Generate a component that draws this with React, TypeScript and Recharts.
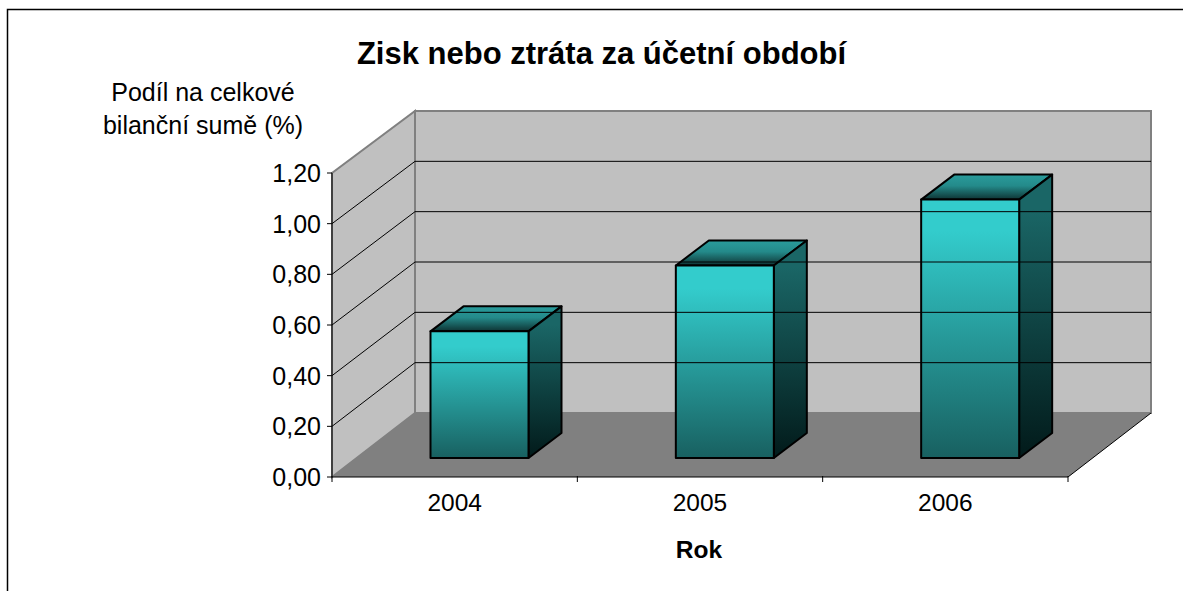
import React from 'react';
import { BarChart, Bar, XAxis, YAxis, ReferenceArea, ReferenceLine } from 'recharts';

const years = ['2004', '2005', '2006'];
const shares = [0.5, 0.76, 1.02];
const yTicks = [0, 0.2, 0.4, 0.6, 0.8, 1.0, 1.2];
const gridTicks = [0.2, 0.4, 0.6, 0.8, 1.0];
const title = 'Zisk nebo ztráta za účetní období';
const yTitle = ['Podíl na celkové', 'bilanční sumě (%)'];
const xTitle = 'Rok';

const rows = years.map((year, i) => ({ year, share: shares[i] }));

const W = 1183, H = 591;
const FONT = '"Liberation Sans", Arial, sans-serif';
const WALL_DX = 83, WALL_DY_TOP = -62, WALL_DY_BOTTOM = -64;
const BAR_SHIFT_X = 24.5, BAR_SHIFT_Y = -19;
const BAR_DX = 33, BAR_DY = -25;
const FRONT_TOP = 173, FRONT_BOTTOM = 477;

// The back wall is a little shorter than the front plane: map a front y onto it.
const backY = (y: number) => {
  const t = (y - FRONT_TOP) / (FRONT_BOTTOM - FRONT_TOP);
  return y + WALL_DY_TOP + (WALL_DY_BOTTOM - WALL_DY_TOP) * t;
};

const Walls = (p: any) => {
  const { x, y, width: w, height: h } = p;
  const bx = x + WALL_DX;
  const bTop = backY(y), bBot = backY(y + h);
  return (
    <g>
      <polygon points={`${x},${y + h} ${bx},${bBot} ${bx},${bTop} ${x},${y}`} fill="#c0c0c0" stroke="#808080" strokeWidth={2} />
      <rect x={bx} y={bTop} width={w} height={bBot - bTop} fill="#c0c0c0" stroke="#808080" strokeWidth={2} />
      <polygon points={`${x},${y + h} ${bx},${bBot} ${bx + w},${bBot} ${x + w},${y + h}`} fill="#808080" />
      <line x1={x + w} y1={y + h} x2={bx + w} y2={bBot} stroke="#000" strokeWidth={1} />
    </g>
  );
};

const GridLine = (p: any) => {
  const { x1, y1, x2 } = p;
  const bx = x1 + WALL_DX, by = backY(y1);
  return <polyline points={`${x1},${y1} ${bx},${by} ${x2 + WALL_DX},${by}`} fill="none" stroke="#000" strokeWidth={1} />;
};

const Box = (p: any) => {
  const x = p.x + BAR_SHIFT_X, y = p.y + BAR_SHIFT_Y, w = p.width, h = p.height;
  const r = x + w, b = y + h;
  return (
    <g stroke="#000" strokeWidth={2} strokeLinejoin="round">
      <polygon points={`${x},${y} ${x + BAR_DX},${y + BAR_DY} ${r + BAR_DX},${y + BAR_DY} ${r},${y}`} fill="url(#topFace)" />
      <polygon points={`${r},${y} ${r + BAR_DX},${y + BAR_DY} ${r + BAR_DX},${b + BAR_DY} ${r},${b}`} fill="url(#sideFace)" />
      <rect x={x} y={y} width={w} height={h} fill="url(#frontFace)" />
    </g>
  );
};

const XTick = (p: any) => {
  const { x, y, payload, index } = p;
  const half = payload.offset ?? 122.67;
  const top = y - 9;
  return (
    <g>
      <line x1={x - half} y1={top} x2={x - half} y2={top + 6} stroke="#000" />
      {index === years.length - 1 && <line x1={x + half} y1={top} x2={x + half} y2={top + 6} stroke="#000" />}
      <text x={x} y={top + 35} textAnchor="middle" fontFamily={FONT} fontSize={24.5} fill="#000">{payload.value}</text>
    </g>
  );
};

export default function App() {
  return (
    <div style={{ position: 'absolute', left: 0, top: 0, width: W, height: H, background: '#fff' }}>
      <BarChart width={W} height={H} data={rows} margin={{ top: 173, right: 115, bottom: 30, left: 272 }} barSize={98}>
        <defs>
          <linearGradient id="frontFace" x1="0" y1="0" x2="0" y2="1">
            <stop offset="0.12" stopColor="#33cccc" />
            <stop offset="1" stopColor="#186060" />
          </linearGradient>
          <linearGradient id="sideFace" x1="0" y1="0" x2="0" y2="1">
            <stop offset="0.12" stopColor="#1a6666" />
            <stop offset="1" stopColor="#021a1a" />
          </linearGradient>
          <linearGradient id="topFace" x1="0" y1="0" x2="0" y2="1">
            <stop offset="0" stopColor="#2a9c9c" />
            <stop offset="0.45" stopColor="#248a8a" />
            <stop offset="1" stopColor="#0e3333" />
          </linearGradient>
        </defs>
        <path d={`M7.5 ${H} L7.5 9.5 L${W} 9.5`} fill="none" stroke="#000" strokeWidth={1.5} />
        <text x={601.5} y={64} textAnchor="middle" fontFamily={FONT} fontSize={31} fontWeight="bold" fill="#000">{title}</text>
        <text fontFamily={FONT} fontSize={25} fill="#000" textAnchor="middle">
          <tspan x={203} y={101}>{yTitle[0]}</tspan>
          <tspan x={203} y={134}>{yTitle[1]}</tspan>
        </text>
        <ReferenceArea yAxisId={0} y1={0} y2={1.2} shape={Walls} ifOverflow="visible" />
        {gridTicks.map((t) => (
          <ReferenceLine key={t} y={t} shape={GridLine} ifOverflow="visible" />
        ))}
        <XAxis
          dataKey="year"
          height={84}
          tickLine={false}
          axisLine={{ stroke: '#000' }}
          tick={XTick}
          interval={0}
          label={{ value: xTitle, position: 'insideBottom', offset: 3, fontFamily: FONT, fontSize: 24.5, fontWeight: 'bold', fill: '#000', dx: -1 }}
        />
        <YAxis
          width={60}
          domain={[0, 1.2]}
          ticks={yTicks}
          interval={0}
          tickSize={5}
          tickMargin={6}
          axisLine={{ stroke: '#000' }}
          tickLine={{ stroke: '#000' }}
          tick={{ fontFamily: FONT, fontSize: 25, fill: '#000' }}
          tickFormatter={(v: number) => v.toFixed(2).replace('.', ',')}
        />
        <Bar dataKey="share" isAnimationActive={false} shape={Box} />
      </BarChart>
    </div>
  );
}
